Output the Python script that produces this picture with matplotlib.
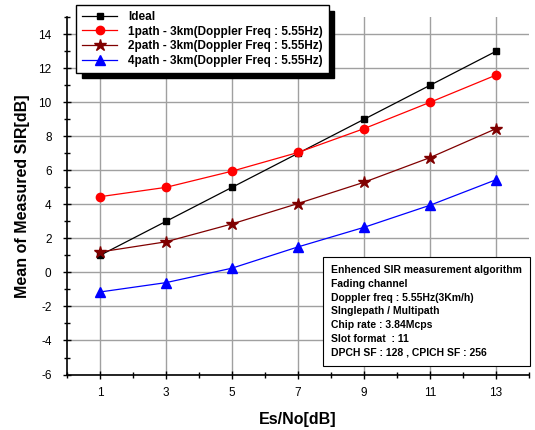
import matplotlib
matplotlib.use('Agg')
import matplotlib.pyplot as plt
from matplotlib.ticker import MultipleLocator

plt.rcParams['font.family'] = ['Liberation Sans', 'DejaVu Sans']
plt.rcParams['axes.unicode_minus'] = False

# 데이터
esno = [1, 3, 5, 7, 9, 11, 13]
ideal = [1, 3, 5, 7, 9, 11, 13]
path1 = [4.45, 5.0, 5.95, 7.05, 8.45, 10.0, 11.6]
path2 = [1.2, 1.8, 2.85, 4.05, 5.3, 6.75, 8.45]
path4 = [-1.15, -0.6, 0.25, 1.5, 2.65, 3.95, 5.45]

labels = ['Ideal',
          '1path - 3km(Doppler Freq : 5.55Hz)',
          '2path - 3km(Doppler Freq : 5.55Hz)',
          '4path - 3km(Doppler Freq : 5.55Hz)']

info = ('Enhenced SIR measurement algorithm\n'
        'Fading channel\n'
        'Doppler freq : 5.55Hz(3Km/h)\n'
        'SInglepath / Multipath\n'
        'Chip rate : 3.84Mcps\n'
        'Slot format  : 11\n'
        'DPCH SF : 128 , CPICH SF : 256')

fig = plt.figure(figsize=[5.35, 4.3], dpi=100)
ax = fig.add_axes([0.125, 0.129, 0.864, 0.831])

ax.plot(esno, ideal, color='black', marker='s', ms=5, lw=0.9, label=labels[0])
ax.plot(esno, path1, color='#ff0000', marker='o', ms=6, lw=0.9, label=labels[1])
ax.plot(esno, path2, color='#800000', marker='*', ms=9, lw=0.9, label=labels[2])
ax.plot(esno, path4, color='#0000ff', marker='^', ms=6.5, lw=0.9, label=labels[3])

ax.set_xlim(0, 14)
ax.set_ylim(-6, 15)
ax.set_xticks(esno)
ax.xaxis.set_minor_locator(MultipleLocator(2))
ax.set_yticks(range(-6, 15, 2))
ax.yaxis.set_minor_locator(MultipleLocator(1))
ax.tick_params(which='major', direction='inout', length=6, width=1, labelsize=8.5, colors='black')
ax.tick_params(axis='y', which='major', pad=8)
ax.tick_params(axis='x', which='major', pad=6)
ax.tick_params(which='minor', direction='inout', length=4, width=1)
ax.spines['top'].set_visible(False)
ax.spines['right'].set_visible(False)
ax.spines['left'].set_linewidth(1.2)
ax.spines['bottom'].set_linewidth(1.2)
ax.grid(True, which='major', color='#a0a0a0', lw=1)
ax.set_axisbelow(True)

ax.set_xlabel('Es/No[dB]', fontsize=11.5, fontweight='bold', labelpad=9)
ax.set_ylabel('Mean of Measured SIR[dB]', fontsize=11.5, fontweight='bold', labelpad=6)

leg = fig.legend(loc='upper left', bbox_to_anchor=(76/535, 1 - 5/430),
                 prop={'size': 8.5, 'weight': 'bold'}, fancybox=False,
                 edgecolor='black', framealpha=1, handlelength=3,
                 handletextpad=0.9, labelspacing=0.22, borderpad=0.5,
                 borderaxespad=0,
                 shadow={'color': 'black', 'alpha': 1, 'ox': 4, 'oy': -4})
leg.get_frame().set_linewidth(1)

ax.text(0.571, 0.306, info, transform=ax.transAxes, fontsize=7.5, fontweight='bold',
        va='top', ha='left', linespacing=1.47,
        bbox=dict(boxstyle='square,pad=0.75', fc='white', ec='black', lw=0.8))

plt.savefig('out.png', dpi=100)
